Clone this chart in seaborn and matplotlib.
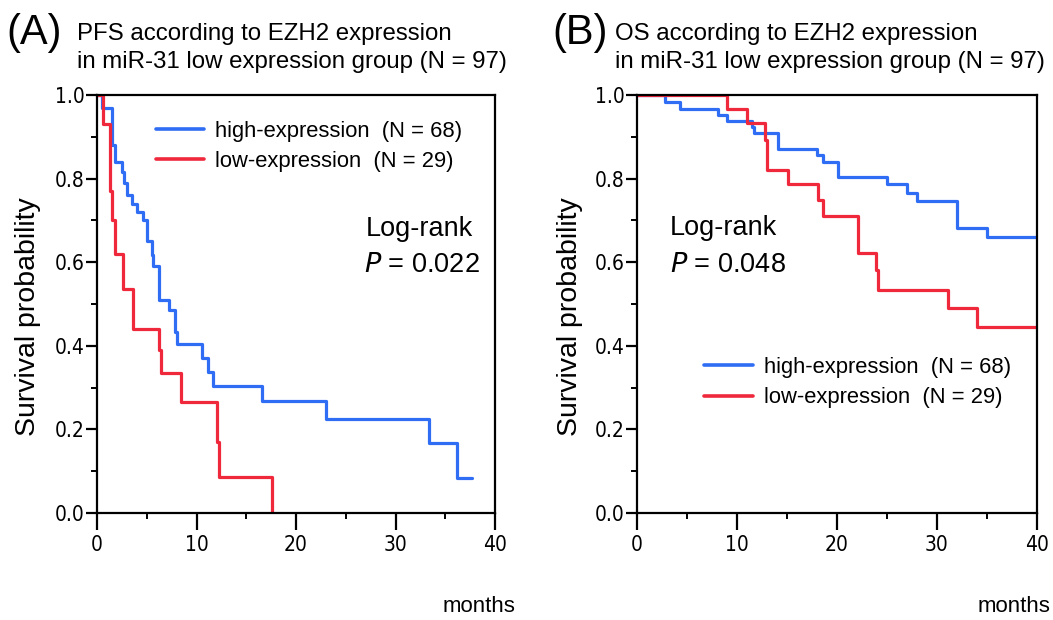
import numpy as np
import pandas as pd
import matplotlib
matplotlib.use('Agg')
import matplotlib.pyplot as plt
import seaborn as sns
from matplotlib.lines import Line2D
from matplotlib.ticker import MultipleLocator
from matplotlib import font_manager

# ---- data (step points: time in months, survival) ----
pfs_high_t = [0, 0.5, 1.5, 1.8, 2.5, 2.7, 3.0, 3.5, 4.0, 4.6, 5.0, 5.5, 5.6, 6.2, 7.2, 7.8, 8.0, 10.6, 11.2, 11.7, 16.6, 23.0, 33.4, 36.2, 37.7]
pfs_high_s = [1.0, 0.97, 0.88, 0.84, 0.815, 0.79, 0.76, 0.74, 0.72, 0.70, 0.65, 0.617, 0.59, 0.51, 0.486, 0.434, 0.405, 0.37, 0.338, 0.304, 0.268, 0.224, 0.168, 0.083, 0.083]
pfs_low_t = [0, 0.6, 1.3, 1.5, 1.8, 2.6, 3.6, 6.2, 6.4, 8.4, 12.1, 12.3, 17.6]
pfs_low_s = [1.0, 0.93, 0.77, 0.70, 0.62, 0.535, 0.44, 0.39, 0.335, 0.265, 0.17, 0.087, 0.0]

os_high_t = [0, 2.8, 4.3, 8.1, 9.0, 11.5, 11.7, 14.1, 18.0, 18.6, 20.1, 25.0, 27.0, 28.0, 32.0, 35.0, 40]
os_high_s = [1.0, 0.984, 0.967, 0.953, 0.938, 0.924, 0.908, 0.872, 0.856, 0.839, 0.803, 0.786, 0.766, 0.747, 0.683, 0.661, 0.661]
os_low_t = [0, 9.0, 11.0, 12.8, 13.0, 15.1, 18.1, 18.6, 22.1, 23.9, 24.1, 31.1, 34.0, 40]
os_low_s = [1.0, 0.967, 0.932, 0.892, 0.82, 0.787, 0.749, 0.71, 0.623, 0.581, 0.533, 0.49, 0.446, 0.446]

labels = ['high-expression  (N = 68)', 'low-expression  (N = 29)']
colors = ['#2f6df5', '#f0283c']
###########################

sns.set_theme(style='white')
plt.rcParams['font.family'] = ['Liberation Sans', 'DejaVu Sans']
plt.rcParams['text.color'] = 'black'
plt.rcParams['axes.labelcolor'] = 'black'
plt.rcParams['xtick.color'] = 'black'
plt.rcParams['ytick.color'] = 'black'

names = set(f.name for f in font_manager.fontManager.ttflist)
if 'Liberation Sans Narrow' in names:
    tick_font = dict(family='Liberation Sans Narrow', size=18)
else:
    tick_font = dict(family='DejaVu Sans', stretch='condensed', size=15)

fig = plt.figure(figsize=(10.53, 6.2), dpi=100)
axA = fig.add_axes([97/1053, 1-513/620, 398/1053, 418/620])
axB = fig.add_axes([637/1053, 1-513/620, 400/1053, 418/620])


def km_panel(ax, ht, hs, lt, ls):
    df = pd.concat([pd.DataFrame({'t': ht, 's': hs, 'g': labels[0]}),
                    pd.DataFrame({'t': lt, 's': ls, 'g': labels[1]})])
    sns.lineplot(data=df, x='t', y='s', hue='g', palette=colors, ax=ax,
                 drawstyle='steps-post', estimator=None, sort=False,
                 lw=2.3, legend=False)
    ax.set_xlim(0, 40)
    ax.set_ylim(0, 1.0)
    ax.xaxis.set_minor_locator(MultipleLocator(5))
    ax.yaxis.set_minor_locator(MultipleLocator(0.1))
    ax.tick_params(axis='both', which='major', direction='out', length=8, width=1.6,
                   bottom=True, left=True, color='black')
    ax.tick_params(axis='both', which='minor', direction='out', length=4, width=1.4,
                   bottom=True, left=True, color='black')
    ax.tick_params(axis='x', which='major', length=12, pad=4)
    ax.tick_params(axis='y', which='major', pad=1)
    ax.set_xticks([0, 10, 20, 30, 40])
    ax.set_xticklabels(['0', '10', '20', '30', '40'], **tick_font)
    yt = [0.0, 0.2, 0.4, 0.6, 0.8, 1.0]
    ax.set_yticks(yt)
    ax.set_yticklabels(['%.1f' % v for v in yt], **tick_font)
    for sp in ax.spines.values():
        sp.set_linewidth(1.6)
        sp.set_color('black')
    ax.set_xlabel('')
    ax.set_ylabel('')


km_panel(axA, pfs_high_t, pfs_high_s, pfs_low_t, pfs_low_s)
km_panel(axB, os_high_t, os_high_s, os_low_t, os_low_s)

handles = [Line2D([], [], color=c, lw=2.6) for c in colors]
leg_kw = dict(loc='upper left', frameon=False, fontsize=15.8, handlelength=2.2,
              handletextpad=0.5, labelspacing=0.42, borderpad=0.2)
axA.legend(handles, labels, bbox_to_anchor=(0.11, 0.975), **leg_kw)
axB.legend(handles, labels, bbox_to_anchor=(0.13, 0.41), **leg_kw)

axA.text(27.0, 0.663, 'Log-rank', fontsize=19.5, ha='left', va='baseline')
axA.text(26.8, 0.577, r'$\mathit{P}$ = 0.022', fontsize=19.5, ha='left', va='baseline')
axB.text(3.3, 0.665, 'Log-rank', fontsize=19.5, ha='left', va='baseline')
axB.text(3.3, 0.577, r'$\mathit{P}$ = 0.048', fontsize=19.5, ha='left', va='baseline')

fig.text(6/1053, 1-44/620, '(A)', fontsize=30, ha='left', va='baseline')
fig.text(77/1053, 1-40/620, 'PFS according to EZH2 expression', fontsize=17.3, va='baseline')
fig.text(77/1053, 1-68/620, 'in miR-31 low expression group (N = 97)', fontsize=17.3, va='baseline')
fig.text(552/1053, 1-44/620, '(B)', fontsize=30, ha='left', va='baseline')
fig.text(615/1053, 1-40/620, 'OS according to EZH2 expression', fontsize=17.3, va='baseline')
fig.text(615/1053, 1-68/620, 'in miR-31 low expression group (N = 97)', fontsize=17.3, va='baseline')

fig.text(28/1053, 1-317/620, 'Survival probability', fontsize=20.5, rotation=90, ha='center', va='center')
fig.text(570/1053, 1-317/620, 'Survival probability', fontsize=20.5, rotation=90, ha='center', va='center')
fig.text(515/1053, 1-612/620, 'months', fontsize=16, ha='right', va='baseline')
fig.text(1050/1053, 1-612/620, 'months', fontsize=16, ha='right', va='baseline')

plt.savefig('out.png', dpi=100, facecolor='white')
plt.close()
